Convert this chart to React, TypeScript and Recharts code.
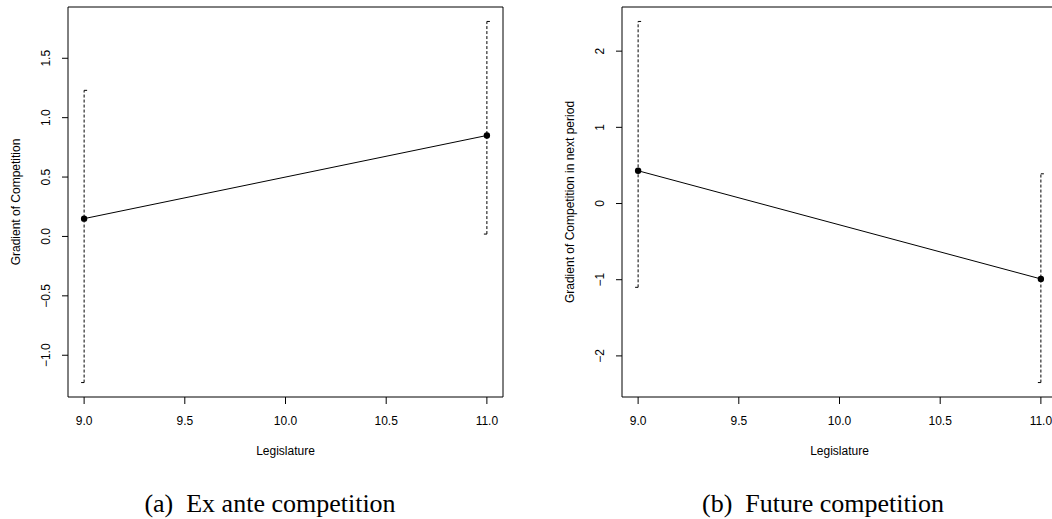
import React from "react";
import {
  ComposedChart,
  Line,
  XAxis,
  YAxis,
  ReferenceArea,
} from "recharts";

// ---- data ----
const legislature = [9, 11];
const xTicks = [9, 9.5, 10, 10.5, 11];

const exAnteEstimate = [0.15, 0.85];
const exAnteLower = [-1.23, 0.02];
const exAnteUpper = [1.23, 1.81];
const exAnteYTicks = [-1.0, -0.5, 0.0, 0.5, 1.0, 1.5];

const futureEstimate = [0.43, -0.99];
const futureLower = [-1.1, -2.35];
const futureUpper = [2.39, 0.39];
const futureYTicks = [-2, -1, 0, 1, 2];

const FONT = "'Liberation Sans', Arial, Helvetica, sans-serif";
const SERIF = "'Liberation Serif', 'Times New Roman', Times, serif";
const FS = 12;

// R style 4% range extension
const extend = (lo: number, hi: number): [number, number] => {
  const d = (hi - lo) * 0.04;
  return [lo - d, hi + d];
};

const CHART_W = 520;
const CHART_H = 470;
const MARGIN = { top: 7, left: 8, right: 17, bottom: 43 };

type PanelProps = {
  est: number[];
  lower: number[];
  upper: number[];
  yTicks: number[];
  yFmt: (v: number) => string;
  yLabel: string;
  width: number;
  right: number;
};

const YTick = (props: any) => {
  const { x, y, payload, fmt } = props;
  return (
    <text
      x={x}
      y={y}
      transform={`rotate(-90 ${x} ${y})`}
      textAnchor="middle"
      fontFamily={FONT}
      fontSize={FS}
      fill="#000"
    >
      {fmt(payload.value)}
    </text>
  );
};

const XTick = (props: any) => {
  const { x, y, payload } = props;
  return (
    <text
      x={x}
      y={y + 21}
      textAnchor="middle"
      fontFamily={FONT}
      fontSize={FS}
      fill="#000"
    >
      {Number(payload.value).toFixed(1)}
    </text>
  );
};

const TopCap = (props: any) => {
  const { cx, cy, index } = props;
  if (cx == null || cy == null) return null;
  const dx = index === 1 ? 3 : -3;
  return (
    <line
      key={`cap-${index}`}
      x1={cx}
      y1={cy}
      x2={cx + dx}
      y2={cy}
      stroke="#000"
      strokeWidth={1}
    />
  );
};

const Panel = ({ est, lower, upper, yTicks, yFmt, yLabel, width, right }: PanelProps) => {
  const mainData = legislature.map((x, i) => ({ x, y: est[i] }));
  const allY = [...lower, ...upper, ...est];
  const yDom = extend(Math.min(...allY), Math.max(...allY));
  const xDom = extend(Math.min(...legislature), Math.max(...legislature));
  return (
    <ComposedChart
      width={width}
      height={CHART_H}
      margin={{ ...MARGIN, right }}
    >
      <XAxis
        dataKey="x"
        type="number"
        domain={xDom}
        ticks={xTicks}
        allowDataOverflow
        axisLine={false}
        tickLine={{ stroke: "#000" }}
        tickSize={7}
        tickMargin={0}
        height={30}
        tick={<XTick />}
        interval={0}
        label={(p: any) => {
          const vb = p.viewBox || {};
          return (
            <text
              x={vb.x + vb.width / 2}
              y={vb.y + 58}
              textAnchor="middle"
              fontFamily={FONT}
              fontSize={FS}
              fill="#000"
            >
              Legislature
            </text>
          );
        }}
      />
      <YAxis
        type="number"
        domain={yDom}
        ticks={yTicks}
        allowDataOverflow
        axisLine={false}
        tickLine={{ stroke: "#000" }}
        tickSize={6}
        tickMargin={12}
        width={60}
        interval={0}
        tick={<YTick fmt={yFmt} />}
        label={(p: any) => {
          const vb = p.viewBox || {};
          const cx = vb.x + 12;
          const cy = vb.y + vb.height / 2;
          return (
            <text
              x={cx}
              y={cy}
              transform={`rotate(-90 ${cx} ${cy})`}
              textAnchor="middle"
              fontFamily={FONT}
              fontSize={FS}
              fill="#000"
            >
              {yLabel}
            </text>
          );
        }}
      />
      <ReferenceArea
        x1={xDom[0]}
        x2={xDom[1]}
        y1={yDom[0]}
        y2={yDom[1]}
        fill="none"
        fillOpacity={0}
        stroke="#000"
        strokeWidth={1}
        ifOverflow="visible"
      />
      {legislature.map((x, i) => (
        <Line
          key={`err-${i}`}
          data={[
            { x, y: lower[i] },
            { x, y: upper[i] },
          ]}
          dataKey="y"
          stroke="#000"
          strokeWidth={1}
          strokeDasharray="3 2"
          dot={<TopCap />}
          activeDot={false}
          isAnimationActive={false}
          legendType="none"
        />
      ))}
      <Line
        data={mainData}
        dataKey="y"
        stroke="#000"
        strokeWidth={1}
        dot={{ r: 3.2, fill: "#000", stroke: "#000", strokeWidth: 0 }}
        activeDot={false}
        isAnimationActive={false}
      />
    </ComposedChart>
  );
};

const captionStyle: React.CSSProperties = {
  position: "absolute",
  width: 400,
  top: 491,
  textAlign: "center",
  fontFamily: SERIF,
  fontSize: 26,
  lineHeight: "26px",
  whiteSpace: "nowrap",
  color: "#000",
};

export default function App() {
  return (
    <div
      style={{
        position: "absolute",
        left: 0,
        top: 0,
        width: 1052,
        height: 519,
        overflow: "hidden",
        background: "#fff",
      }}
    >
      <div style={{ position: "absolute", left: 0, top: 0 }}>
        <Panel
          est={exAnteEstimate}
          lower={exAnteLower}
          upper={exAnteUpper}
          yTicks={exAnteYTicks}
          yFmt={(v) => (v < 0 ? "\u2212" + Math.abs(v).toFixed(1) : v.toFixed(1))}
          yLabel="Gradient of Competition"
          width={CHART_W}
          right={17}
        />
      </div>
      <div style={{ position: "absolute", left: 554, top: 0 }}>
        <Panel
          est={futureEstimate}
          lower={futureLower}
          upper={futureUpper}
          yTicks={futureYTicks}
          yFmt={(v) => (v < 0 ? "\u2212" + Math.abs(v) : String(v))}
          yLabel="Gradient of Competition in next period"
          width={CHART_W}
          right={CHART_W - 8 - 60 - 435}
        />
      </div>
      <div style={{ ...captionStyle, left: 70 }}>(a)&nbsp; Ex ante competition</div>
      <div style={{ ...captionStyle, left: 623 }}>(b)&nbsp; Future competition</div>
    </div>
  );
}
